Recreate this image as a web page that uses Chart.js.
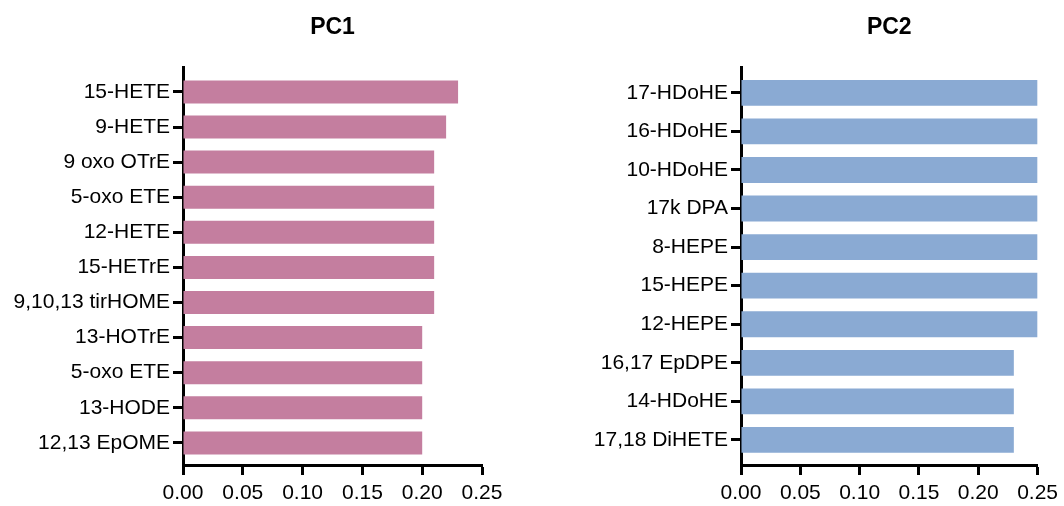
<!DOCTYPE html>
<html>
<head>
<meta charset="utf-8">
<script src="https://cdn.jsdelivr.net/npm/chart.js@4/dist/chart.umd.min.js"></script>
<style>
  html, body { margin: 0; padding: 0; background: #fff; }
  body { width: 1064px; height: 506px; position: relative; overflow: hidden; }
  canvas { position: absolute; top: 0; }
  #c1 { left: 0; }
  #c2 { left: 530px; }
</style>
</head>
<body>
<canvas id="c1" width="520" height="506"></canvas>
<canvas id="c2" width="534" height="506"></canvas>
<script>
const pc1Labels = ['15-HETE', '9-HETE', '9 oxo OTrE', '5-oxo ETE', '12-HETE', '15-HETrE', '9,10,13 tirHOME', '13-HOTrE', '5-oxo ETE', '13-HODE', '12,13 EpOME'];
const pc1Values = [0.23, 0.22, 0.21, 0.21, 0.21, 0.21, 0.21, 0.20, 0.20, 0.20, 0.20];
const pc2Labels = ['17-HDoHE', '16-HDoHE', '10-HDoHE', '17k DPA', '8-HEPE', '15-HEPE', '12-HEPE', '16,17 EpDPE', '14-HDoHE', '17,18 DiHETE'];
const pc2Values = [0.25, 0.25, 0.25, 0.25, 0.25, 0.25, 0.25, 0.23, 0.23, 0.23];
const xTicks = [0, 0.05, 0.10, 0.15, 0.20, 0.25];

const FONT = "'Liberation Sans', Arial, Helvetica, sans-serif";

const centeredTitle = {
  id: 'centeredTitle',
  afterDraw(chart, args, opts) {
    const ctx = chart.ctx;
    const a = chart.chartArea;
    ctx.save();
    ctx.font = 'bold 23px ' + FONT;
    ctx.fillStyle = '#000';
    ctx.textAlign = 'center';
    ctx.textBaseline = 'middle';
    ctx.fillText(opts.text, (a.left + a.right) / 2, 28);
    ctx.restore();
  }
};

function makeChart(id, title, labels, values, color, yWidth, padRight, yMin, yMax, barPct) {
  return new Chart(document.getElementById(id), {
    type: 'bar',
    plugins: [centeredTitle],
    data: {
      datasets: [{
        data: values.map((v, i) => ({ x: v, y: i })),
        backgroundColor: color,
        borderWidth: 0,
        barPercentage: barPct,
        categoryPercentage: 1
      }]
    },
    options: {
      indexAxis: 'y',
      responsive: false,
      animation: false,
      layout: { padding: { left: 0, right: padRight, top: 67, bottom: 0 } },
      plugins: {
        legend: { display: false },
        tooltip: { enabled: false },
        title: { display: false },
        centeredTitle: { text: title }
      },
      scales: {
        x: {
          type: 'linear',
          min: 0,
          max: 0.25,
          offset: false,
          afterBuildTicks: s => { s.ticks = xTicks.map(v => ({ value: v })); },
          ticks: {
            color: '#000',
            font: { family: FONT, size: 21 },
            padding: 6,
            callback: v => Number(v).toFixed(2),
            maxRotation: 0
          },
          grid: { display: true, offset: false, drawOnChartArea: false, drawTicks: true, tickLength: 10, tickWidth: 3, tickColor: '#000' },
          border: { display: true, width: 3, color: '#000' },
          afterFit: s => { s.height = 41; }
        },
        y: {
          type: 'linear',
          reverse: true,
          min: yMin,
          max: yMax,
          offset: false,
          afterBuildTicks: s => { s.ticks = labels.map((l, i) => ({ value: i })); },
          ticks: {
            color: '#000',
            font: { family: FONT, size: 21 },
            padding: 3,
            autoSkip: false,
            callback: v => labels[v]
          },
          grid: { display: true, offset: false, drawOnChartArea: false, drawTicks: true, tickLength: 10, tickWidth: 3, tickColor: '#000' },
          border: { display: true, width: 3, color: '#000' },
          afterFit: s => { s.width = yWidth; }
        }
      }
    }
  });
}

makeChart('c1', 'PC1', pc1Labels, pc1Values, '#C47E9F', 183, 38, -0.71, 10.63, 0.655);
makeChart('c2', 'PC2', pc2Labels, pc2Values, '#8AAAD3', 211, 25, -0.67, 9.65, 0.67);
</script>
</body>
</html>
